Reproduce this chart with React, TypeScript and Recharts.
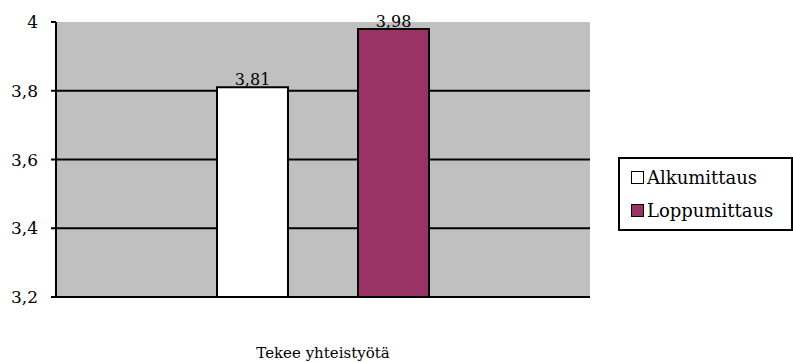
import { Bar, BarChart, CartesianGrid, LabelList, XAxis, YAxis } from "recharts";

const categories = ["Tekee yhteistyötä"];
const alkumittaus = [3.81];
const loppumittaus = [3.98];
const yTicks = [3.2, 3.4, 3.6, 3.8, 4];

const FONT = "DejaVu Serif, serif";
const fmt = (v: number | string) => String(v).replace(".", ",");

const data = categories.map((name, i) => ({
  name,
  alku: alkumittaus[i],
  loppu: loppumittaus[i],
}));

const series = [
  { key: "alku", label: "Alkumittaus", fill: "#FFFFFF" },
  { key: "loppu", label: "Loppumittaus", fill: "#993366" },
];

function LegendBox() {
  return (
    <div
      style={{
        position: "absolute",
        left: 618,
        top: 157,
        boxSizing: "border-box",
        border: "2px solid #000",
        background: "#fff",
        width: 175,
        height: 74,
        padding: "2px 0 0 11px",
        fontFamily: FONT,
        fontSize: 18,
        lineHeight: "33px",
        color: "#000",
      }}
    >
      {series.map((s) => (
        <div key={s.key} style={{ display: "flex", alignItems: "center", gap: 3 }}>
          <span style={{ width: 11, height: 11, border: "1.5px solid #000", background: s.fill, display: "inline-block" }} />
          {s.label}
        </div>
      ))}
    </div>
  );
}

export default function App() {
  return (
    <div style={{ position: "absolute", left: 0, top: 0, width: 793, height: 362, background: "#fff" }}>
      <BarChart
        width={793}
        height={362}
        data={data}
        margin={{ top: 22, right: 203, left: 0, bottom: 0 }}
        barGap={70}
        barSize={71}
      >
        <CartesianGrid fill="#C0C0C0" vertical={false} stroke="#000" strokeWidth={2} horizontalValues={[3.4, 3.6, 3.8]} />
        <XAxis
          dataKey="name"
          height={65}
          axisLine={{ stroke: "#000", strokeWidth: 2 }}
          tickLine={false}
          tickMargin={44}
          tick={{ fill: "#000", fontFamily: FONT, fontSize: 15 }}
        />
        <YAxis
          width={56}
          domain={[3.2, 4]}
          ticks={yTicks}
          allowDataOverflow
          tickFormatter={fmt}
          axisLine={{ stroke: "#000", strokeWidth: 2 }}
          tickLine={{ stroke: "#000", strokeWidth: 2 }}
          tickSize={5}
          tickMargin={13}
          tick={{ fill: "#000", fontFamily: FONT, fontSize: 17 }}
        />
        {series.map((s) => (
          <Bar key={s.key} dataKey={s.key} name={s.label} fill={s.fill} stroke="#000" strokeWidth={2} isAnimationActive={false}>
            <LabelList dataKey={s.key} position="top" offset={2} formatter={fmt} fill="#000" fontFamily={FONT} fontSize={16} />
          </Bar>
        ))}
      </BarChart>
      <LegendBox />
    </div>
  );
}
